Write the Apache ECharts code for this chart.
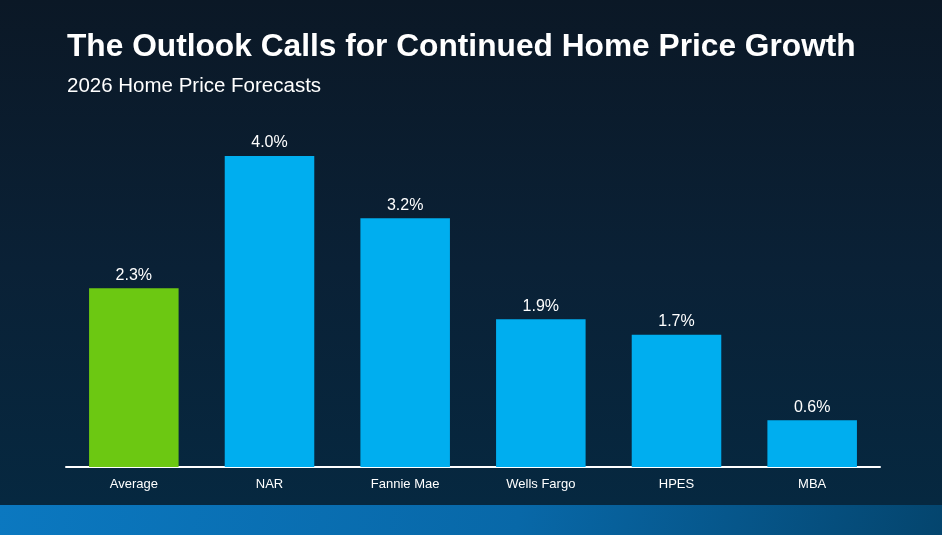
<!DOCTYPE html>
<html>
<head>
<meta charset="utf-8">
<script src="https://cdn.jsdelivr.net/npm/echarts@6/dist/echarts.min.js"></script>
<style>
html,body{margin:0;padding:0;width:942px;height:535px;overflow:hidden;}
body{background:linear-gradient(180deg,#0b1826 0%,#0a2136 50%,#062840 94%);position:relative;}
#band{position:absolute;left:0;top:505px;width:942px;height:30px;background:linear-gradient(100deg,#0b78c0 0%,#0868a8 55%,#04456e 100%);}
#chart{position:absolute;left:0;top:0;width:942px;height:535px;}
</style>
</head>
<body>
<div id="band"></div>
<div id="chart"></div>
<script>
const categories = ["Average", "NAR", "Fannie Mae", "Wells Fargo", "HPES", "MBA"];
const values = [2.3, 4.0, 3.2, 1.9, 1.7, 0.6];
const barColors = ["#6cc812", "#00aeef", "#00aeef", "#00aeef", "#00aeef", "#00aeef"];
const titleText = "The Outlook Calls for Continued Home Price Growth";
const subtitleText = "2026 Home Price Forecasts";

const chart = echarts.init(document.getElementById('chart'), null, {renderer:'canvas'});
chart.setOption({
  backgroundColor: 'transparent',
  animation: false,
  title: {
    text: titleText,
    subtext: subtitleText,
    left: 62,
    top: 26,
    itemGap: 13,
    textStyle: {color:'#ffffff', fontSize:31.7, fontWeight:'bold', fontFamily:'Liberation Sans, Arial, sans-serif'},
    subtextStyle: {color:'#ffffff', fontSize:20.5, fontFamily:'Liberation Sans, Arial, sans-serif'}
  },
  grid: {left:66, right:62, top:156, bottom:68},
  xAxis: {
    type:'category',
    data: categories,
    axisLine:{lineStyle:{color:'#ffffff', width:2}},
    axisTick:{show:false},
    axisLabel:{color:'#ffffff', fontSize:13, margin:11, fontFamily:'Liberation Sans Narrow, Arial Narrow, Liberation Sans, sans-serif'}
  },
  yAxis: {
    type:'value', min:0, max:4,
    show:false,
    splitLine:{show:false}
  },
  series: [{
    type:'bar',
    data: values.map((v,i)=>({value:v, itemStyle:{color:barColors[i]}})),
    barCategoryGap:'34%',
    label:{show:true, position:'top', distance:5, color:'#ffffff', fontSize:16,
      fontFamily:'Liberation Sans, Arial, sans-serif',
      formatter:(p)=>p.value.toFixed(1)+'%'}
  }]
});
</script>
</body>
</html>
